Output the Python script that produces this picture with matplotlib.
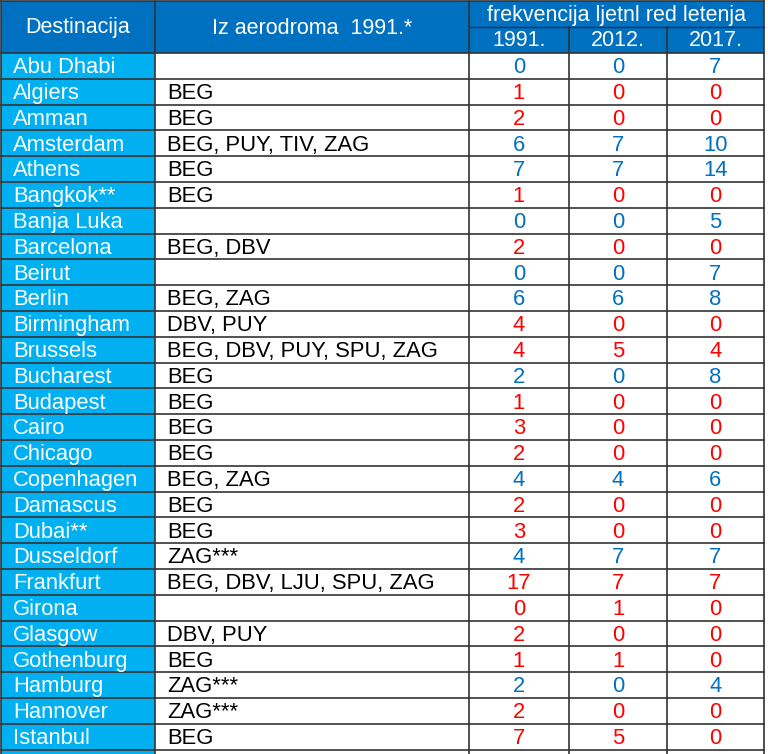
import matplotlib
matplotlib.use('Agg')
import matplotlib.pyplot as plt
from matplotlib.patches import Rectangle

plt.rcParams['font.family'] = ['Liberation Sans', 'DejaVu Sans']

# table data
destinations = ['Abu Dhabi', 'Algiers', 'Amman', 'Amsterdam', 'Athens', 'Bangkok**',
                'Banja Luka', 'Barcelona', 'Beirut', 'Berlin', 'Birmingham', 'Brussels',
                'Bucharest', 'Budapest', 'Cairo', 'Chicago', 'Copenhagen', 'Damascus',
                'Dubai**', 'Dusseldorf', 'Frankfurt', 'Girona', 'Glasgow', 'Gothenburg',
                'Hamburg', 'Hannover', 'Istanbul']
airports_1991 = ['', 'BEG', 'BEG', 'BEG, PUY, TIV, ZAG', 'BEG', 'BEG',
                 '', 'BEG, DBV', '', 'BEG, ZAG', 'DBV, PUY', 'BEG, DBV, PUY, SPU, ZAG',
                 'BEG', 'BEG', 'BEG', 'BEG', 'BEG, ZAG', 'BEG',
                 'BEG', 'ZAG***', 'BEG, DBV, LJU, SPU, ZAG', '', 'DBV, PUY', 'BEG',
                 'ZAG***', 'ZAG***', 'BEG']
freq_1991 = [0, 1, 2, 6, 7, 1, 0, 2, 0, 6, 4, 4, 2, 1, 3, 2, 4, 2, 3, 4, 17, 0, 2, 1, 2, 2, 7]
freq_2012 = [0, 0, 0, 7, 7, 0, 0, 0, 0, 6, 0, 5, 0, 0, 0, 0, 4, 0, 0, 7, 7, 1, 0, 1, 0, 0, 5]
freq_2017 = [7, 0, 0, 10, 14, 0, 5, 0, 7, 8, 0, 4, 8, 0, 0, 0, 6, 0, 0, 7, 7, 0, 0, 0, 4, 0, 0]
years = ['1991.', '2012.', '2017.']

# layout (pixels)
W, H = 768, 754
col_x = [1, 155, 469, 569, 667, 764]
head_top, head_mid, head_bot = 1, 27, 53
row_h = 25.8

dark_blue = '#0070C0'
cyan = '#00B0F0'
red = '#FF0000'
line_c = '#333333'
fs = 15.8
fs_head = 15.5

fig = plt.figure(figsize=(W / 100, H / 100), dpi=100)
ax = fig.add_axes([0, 0, 1, 1])
ax.set_xlim(0, W)
ax.set_ylim(H, 0)
ax.axis('off')

n = len(destinations)

# header
ax.add_patch(Rectangle((col_x[0], head_top), col_x[-1] - col_x[0], head_bot - head_top,
                       facecolor=dark_blue, edgecolor='none'))
ax.text((col_x[0] + col_x[1]) / 2, (head_top + head_bot) / 2 + 1, 'Destinacija',
        color='white', fontsize=fs_head, ha='center', va='center')
ax.text((col_x[1] + col_x[2]) / 2, (head_top + head_bot) / 2 + 1, 'Iz aerodroma  1991.*',
        color='white', fontsize=fs_head, ha='center', va='center')
ax.text((col_x[2] + col_x[5]) / 2, (head_top + head_mid) / 2 + 1, 'frekvencija ljetnl red letenja',
        color='white', fontsize=fs_head, ha='center', va='center')
for j, yr in enumerate(years):
    ax.text((col_x[2 + j] + col_x[3 + j]) / 2, (head_mid + head_bot) / 2 + 1, yr,
            color='white', fontsize=fs_head, ha='center', va='center')

# body: destination column background, extends to bottom
ax.add_patch(Rectangle((col_x[0], head_bot), col_x[1] - col_x[0], H - head_bot,
                       facecolor=cyan, edgecolor='none'))

for i in range(n):
    top = head_bot + i * row_h
    base = top + 20.2
    ax.text(col_x[0] + 12, base, destinations[i], color='white', fontsize=fs,
            ha='left', va='baseline')
    ax.text(col_x[1] + 12, base, airports_1991[i], color='black', fontsize=fs,
            ha='left', va='baseline')
    c = dark_blue if freq_2017[i] > freq_1991[i] else red
    for j, v in enumerate([freq_1991[i], freq_2012[i], freq_2017[i]]):
        ax.text((col_x[2 + j] + col_x[3 + j]) / 2, base, str(v), color=c, fontsize=fs,
                ha='center', va='baseline')

# grid lines
for i in range(n + 1):
    y = head_bot + i * row_h
    ax.plot([col_x[0], col_x[-1]], [y, y], color=line_c, lw=1.2)
ax.plot([col_x[2], col_x[-1]], [head_mid, head_mid], color='#123456', lw=1)
ax.plot([col_x[0], col_x[-1]], [head_top, head_top], color=line_c, lw=1.2)
for k, x in enumerate(col_x):
    if k in (3, 4):
        ax.plot([x, x], [head_mid, H], color=line_c, lw=1.2)
    else:
        ax.plot([x, x], [head_top, H], color=line_c, lw=1.2)

fig.savefig('out.png', dpi=100)
